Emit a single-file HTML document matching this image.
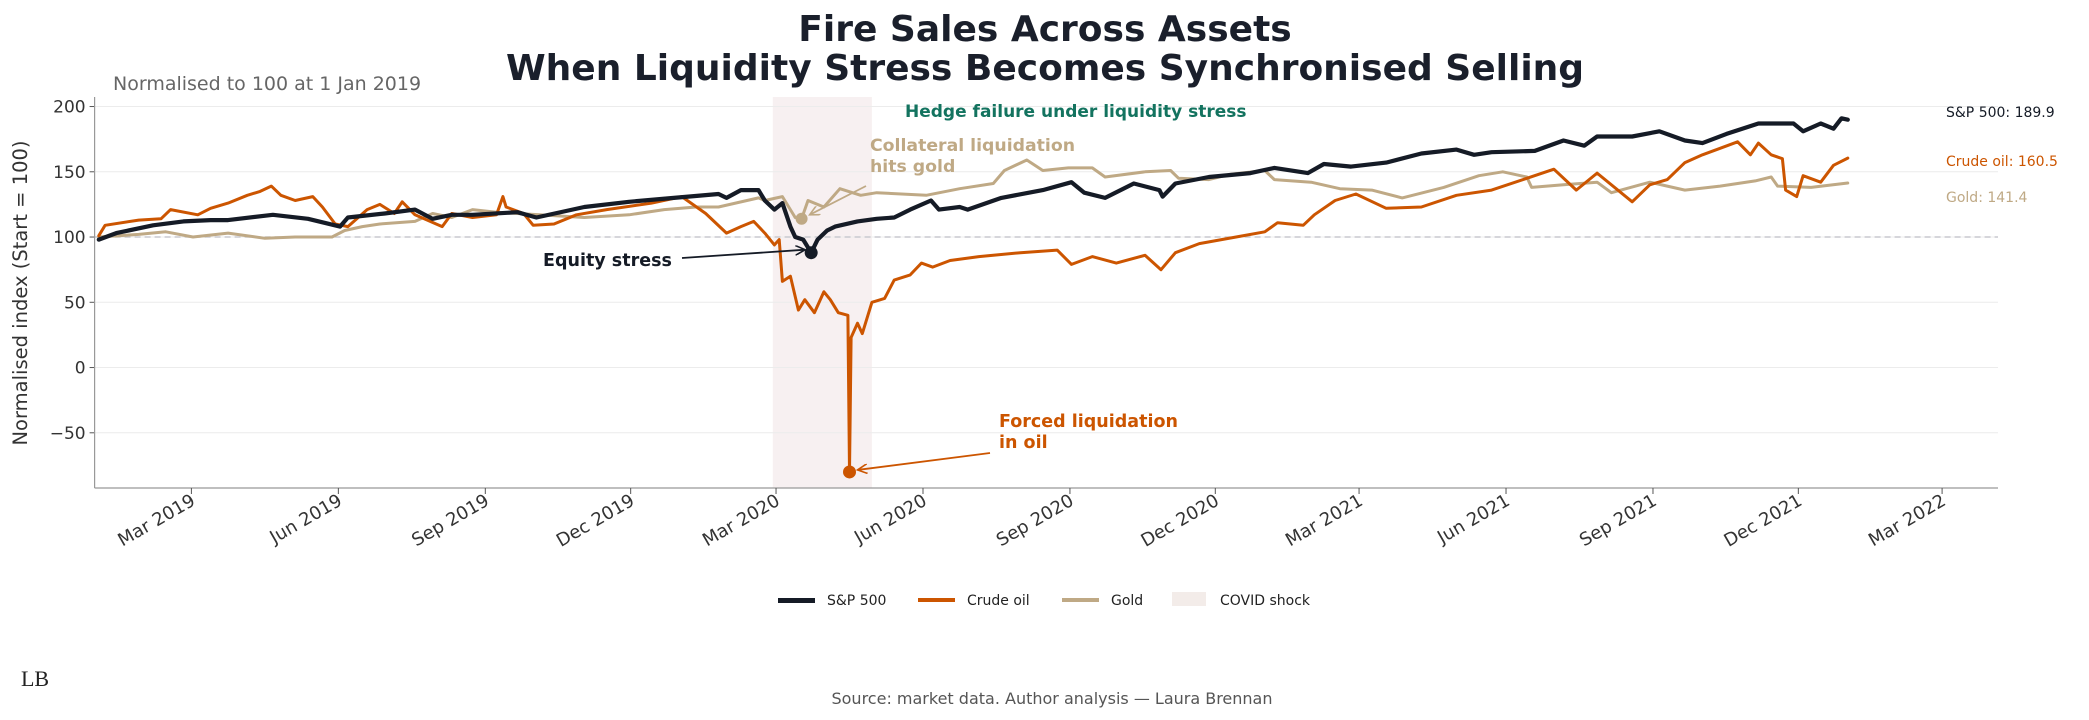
<!DOCTYPE html>
<html><head><meta charset="utf-8">
<style>
html,body{margin:0;padding:0;background:#fff;}
svg{display:block;font-family:"DejaVu Sans","Liberation Sans",sans-serif;}
</style></head>
<body>
<svg id="chart" width="2089" height="720" viewBox="0 0 2089 720">
<text x="1045" y="41" text-anchor="middle" font-size="36" font-weight="bold" fill="#1a1f2b">Fire Sales Across Assets</text>
<text x="1045" y="80" text-anchor="middle" font-size="36" font-weight="bold" fill="#1a1f2b">When Liquidity Stress Becomes Synchronised Selling</text>
<text x="113" y="90" font-size="19" fill="#666">Normalised to 100 at 1 Jan 2019</text>
<g id="plot"></g>
<text transform="translate(27,293) rotate(-90)" text-anchor="middle" font-size="19.5" fill="#333">Normalised index (Start = 100)</text>
<g>
 <g><rect x="778" y="598" width="37" height="5" fill="#151b26"/><text x="827" y="605" font-size="14" fill="#222">S&amp;P 500</text></g>
 <g><rect x="918" y="598" width="37" height="4" fill="#cc5500"/><text x="967" y="605" font-size="14" fill="#222">Crude oil</text></g>
 <g><rect x="1062" y="598" width="37" height="4" fill="#bfa985"/><text x="1111" y="605" font-size="14" fill="#222">Gold</text></g>
 <g><rect x="1172" y="592" width="34" height="14" fill="#f3ece9"/><text x="1220" y="605" font-size="14" fill="#222">COVID shock</text></g>
</g>
<text x="1052" y="704" text-anchor="middle" font-size="16" fill="#555">Source: market data. Author analysis — Laura Brennan</text>
<text x="35" y="686" text-anchor="middle" font-size="22" font-family="Liberation Serif,serif" fill="#222">LB</text>
</svg>
<script>
const spDays=[1,12,35,54,71,82,110,132,152,157,180,199,210,222,235,263,275,305,333,361,389,394,403,414,418,424,429,434,437,442,447,451,457,462,476,488,499,509,522,527,540,545,566,592,610,618,631,649,665,667,675,696,722,737,758,768,785,807,829,851,862,873,900,918,931,939,961,978,994,1005,1020,1040,1062,1068,1079,1087,1092,1096];
const spVals=[98,103,109,112,113,113,117,114,108,115,118,121,114,117,117,119,115,123,127,130,133,130,136,136,128,121,126,108,100,98,88,98,105,108,112,114,115,121,128,121,123,121,130,136,142,134,130,141,136,131,141,146,149,153,149,156,154,157,164,167,163,165,166,174,170,177,177,181,174,172,179,187,187,181,187,183,191,189.9];
const oilDays=[1,5,26,40,46,63,71,82,94,102,109,115,124,135,141,149,157,169,177,186,191,199,216,222,235,250,254,256,267,273,286,300,319,347,366,381,394,403,411,418,424,427,429,434,439,443,449,455,459,464,470,471,472,476,479,485,493,499,509,516,523,534,552,578,601,610,623,638,656,666,675,690,713,731,739,755,762,775,788,807,829,851,873,895,912,926,939,961,972,983,994,1005,1016,1027,1035,1040,1048,1055,1057,1064,1068,1079,1087,1096];
const oilVals=[101,109,113,114,121,117,122,126,132,135,139,132,128,131,123,110,108,121,125,118,127,117,108,118,115,117,131,123,118,109,110,117,121,126,131,118,103,108,112,103,94,98,66,70,44,52,42,58,52,42,40,-80,23,34,26,50,53,67,71,80,77,82,85,88,90,79,85,80,86,75,88,95,100,104,111,109,117,128,133,122,123,132,136,145,152,136,149,127,140,144,157,163,168,173,163,172,163,160,136,131,147,142,155,160.5];
const goldDays=[1,26,43,60,82,105,124,147,155,166,177,199,210,222,235,250,263,277,305,333,355,375,389,414,418,429,437,441,445,455,465,478,488,519,540,561,568,582,592,608,623,631,656,672,677,696,709,731,737,760,778,798,817,843,865,880,895,898,918,939,948,972,994,1016,1038,1048,1052,1073,1096];
const goldVals=[100,102,104,100,103,99,100,100,105,108,110,112,118,115,121,119,118,117,115,117,121,123,123,130,128,131,115,114,128,123,137,132,134,132,137,141,151,159,151,153,153,146,150,151,145,144,148,151,144,142,137,136,130,138,147,150,146,138,140,142,134,142,136,139,143,146,139,138,141.4];
const yTicks=[200,150,100,50,0,-50];
const xTickLabels=["Mar 2019","Jun 2019","Sep 2019","Dec 2019","Mar 2020","Jun 2020","Sep 2020","Dec 2020","Mar 2021","Jun 2021","Sep 2021","Dec 2021","Mar 2022"];
const xTickDates=["2019-03-01","2019-06-01","2019-09-01","2019-12-01","2020-03-01","2020-06-01","2020-09-01","2020-12-01","2021-03-01","2021-06-01","2021-09-01","2021-12-01","2022-03-01"];
const covidStart="2020-02-28", covidEnd="2020-04-30";

const NS="http://www.w3.org/2000/svg";
const L=94.6,R=1998,T=97,B=488;
const d0=Date.UTC(2019,0,1);
function dayOf(s){const p=s.split('-');return (Date.UTC(+p[0],+p[1]-1,+p[2])-d0)/864e5;}
const xMin=-1.6, xMax=dayOf("2022-04-05");
function xs(d){return L+(d-xMin)/(xMax-xMin)*(R-L);}
const yMin=-92.3,yMax=207.3;
function ys(v){return B-(v-yMin)/(yMax-yMin)*(B-T);}
const g=document.getElementById('plot');
function mk(tag,attrs,parent){const e=document.createElementNS(NS,tag);for(const k in attrs)e.setAttribute(k,attrs[k]);(parent||g).appendChild(e);return e;}

let e=mk('rect',{x:xs(dayOf(covidStart)),y:T,width:xs(dayOf(covidEnd))-xs(dayOf(covidStart)),height:B-T,fill:'#f7f0f1'});



yTicks.forEach(v=>{
 let gl=mk('line',{x1:L,x2:R,y1:ys(v),y2:ys(v),stroke:'#ececec','stroke-width':1});
 
 
 let tk=mk('line',{x1:L-5,x2:L,y1:ys(v),y2:ys(v),stroke:'#555','stroke-width':1});
 
 
 let t=mk('text',{x:L-9,y:ys(v)+6,'text-anchor':'end','font-size':17,fill:'#333'});
 t.textContent=v<0?'\u2212'+Math.abs(v):String(v);
 
 
});
let ref=mk('line',{x1:L,x2:R,y1:ys(100),y2:ys(100),stroke:'#c9c9cf','stroke-width':1.5,'stroke-dasharray':'6,4'});



let ax=mk('line',{x1:L,x2:L,y1:T,y2:B,stroke:'#999','stroke-width':1.2});


let bx=mk('line',{x1:L,x2:R,y1:B,y2:B,stroke:'#999','stroke-width':1.2});



xTickDates.forEach((s,i)=>{
 const x=xs(dayOf(s));
 let tk=mk('line',{x1:x,x2:x,y1:B,y2:B+6,stroke:'#555','stroke-width':1});
 
 
 let t=mk('text',{transform:`translate(${x+5},${B+16}) rotate(-30)`,'text-anchor':'end','font-size':18,fill:'#333'});
 t.textContent=xTickLabels[i];
 
 
});

function line(days,vals,color,w,name){
 const d=days.map((dd,i)=>(i?'L':'M')+xs(dd).toFixed(1)+','+ys(vals[i]).toFixed(1)).join('');
 let p=mk('path',{d:d,fill:'none',stroke:color,'stroke-width':w,'stroke-linejoin':'round','stroke-linecap':'round'});
 
 
}
line(goldDays,goldVals,'#bfa985',3,'gold-line');
line(oilDays,oilVals,'#cc5500',3,'crude-oil-line');
line(spDays,spVals,'#151b26',4.2,'sp500-line');

function argmin(a){let k=0;a.forEach((v,i)=>{if(v<a[k])k=i;});return k;}
const si=argmin(spVals.slice(0,40)), oi=argmin(oilVals);
let gi=-1;goldDays.forEach((d,i)=>{if(d>430&&d<450&&(gi<0||goldVals[i]<goldVals[gi]))gi=i;});
function dot(x,y,c,r,name){let c1=mk('circle',{cx:x,cy:y,r:r,fill:c});}
const spP=[xs(spDays[si]),ys(spVals[si])], oilP=[xs(oilDays[oi]),ys(oilVals[oi])], gP=[xs(goldDays[gi]),ys(goldVals[gi])];
dot(gP[0],gP[1],'#bfa985',6,'gold-trough-marker');
dot(spP[0],spP[1],'#151b26',6.5,'sp500-trough-marker');
dot(oilP[0],oilP[1],'#cc5500',6.5,'oil-trough-marker');

const defs=mk('defs',{});
[['ah-k','#151b26'],['ah-o','#cc5500'],['ah-g','#bfa985']].forEach(([id,c])=>{
 const m=mk('marker',{id:id,markerWidth:12,markerHeight:10,refX:10,refY:5,orient:'auto',markerUnits:'userSpaceOnUse'},defs);
 mk('path',{d:'M0,0 L10,5 L0,10',fill:'none',stroke:c,'stroke-width':1.6},m);
});
function arrow(x1,y1,x2,y2,c,id,name){let a=mk('line',{x1:x1,y1:y1,x2:x2,y2:y2,stroke:c,'stroke-width':1.8,'marker-end':`url(#${id})`});}
arrow(682,258,spP[0]-6,spP[1]-3,'#151b26','ah-k','equity-stress-arrow');
arrow(990,453,oilP[0]+8,oilP[1]-2,'#cc5500','ah-o','oil-arrow');
arrow(866,186,gP[0]+8,gP[1]-4,'#bfa985','ah-g','gold-arrow');

function txt(x,y,s,c,size,bold,name,anchor){let t=mk('text',{x:x,y:y,fill:c,'font-size':size,'font-weight':bold?'bold':'normal','text-anchor':anchor||'start'});t.textContent=s;}
txt(905,117,'Hedge failure under liquidity stress','#13735f',17,true,'hedge-failure-annotation');
txt(870,151,'Collateral liquidation','#bfa985',17.3,true,'gold-annotation-line-1');
txt(870,172,'hits gold','#bfa985',17.3,true,'gold-annotation-line-2');
txt(543,266,'Equity stress','#151b26',17.5,true,'equity-stress-annotation');
txt(999,427,'Forced liquidation','#cc5500',17.5,true,'oil-annotation-line-1');
txt(999,448,'in oil','#cc5500',17.5,true,'oil-annotation-line-2');
txt(1946,117,'S&P 500: '+spVals[spVals.length-1].toFixed(1),'#151b26',14,false,'sp500-end-label');
txt(1946,166,'Crude oil: '+oilVals[oilVals.length-1].toFixed(1),'#cc5500',14,false,'oil-end-label');
txt(1946,202,'Gold: '+goldVals[goldVals.length-1].toFixed(1),'#bfa985',14,false,'gold-end-label');
</script>
</body></html>
